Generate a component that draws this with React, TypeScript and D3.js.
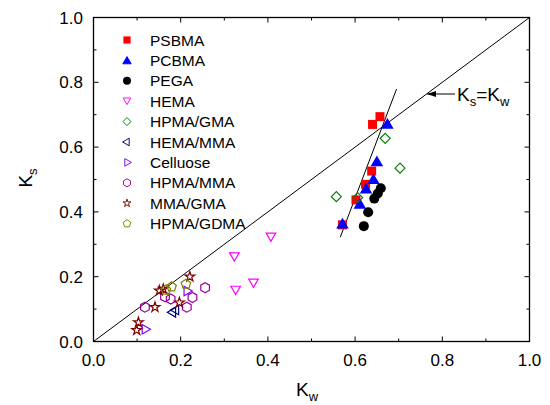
import React from "react";
import * as d3 from "d3";

// K_w, K_s pairs for each polymer family
const psbma = [[0.657, 0.694], [0.640, 0.670], [0.638, 0.526], [0.624, 0.485], [0.602, 0.437], [0.571, 0.360]];
const pcbma = [[0.674, 0.671], [0.650, 0.555], [0.642, 0.500], [0.625, 0.471], [0.611, 0.424], [0.571, 0.363]];
const pega = [[0.659, 0.473], [0.652, 0.457], [0.644, 0.441], [0.630, 0.399], [0.620, 0.356]];
const hema = [[0.407, 0.323], [0.367, 0.181], [0.323, 0.262], [0.326, 0.159]];
const hpmaGma = [[0.669, 0.627], [0.703, 0.535], [0.557, 0.447], [0.606, 0.444]];
const hemaMma = [[0.182, 0.090], [0.189, 0.097]];
const cellulose = [[0.118, 0.038], [0.214, 0.156]];
const hpmaMma = [[0.118, 0.106], [0.164, 0.138], [0.177, 0.131], [0.227, 0.136], [0.214, 0.106], [0.256, 0.166]];
const mmaGma = [[0.221, 0.200], [0.160, 0.162], [0.197, 0.120], [0.141, 0.106], [0.103, 0.059], [0.099, 0.035], [0.151, 0.157]];
const hpmaGdma = [[0.179, 0.169], [0.166, 0.159], [0.212, 0.177]];

// steep guide line through the zwitterionic points
const fitLine = [[0.566, 0.322], [0.695, 0.779]];
const ticks = [0, 0.2, 0.4, 0.6, 0.8, 1.0];
const minorTicks = [0.1, 0.3, 0.5, 0.7, 0.9];

const W = 550, H = 405;
const x = d3.scaleLinear().domain([0, 1]).range([93.5, 529.5]);
const y = d3.scaleLinear().domain([0, 1]).range([341.5, 17.5]);

const font = "Arial, 'Liberation Sans', sans-serif";

function poly(n: number, r: number, rot: number) {
  const pts: string[] = [];
  for (let i = 0; i < n; i++) {
    const a = rot + (i * 2 * Math.PI) / n;
    pts.push((r * Math.cos(a)).toFixed(2) + "," + (r * Math.sin(a)).toFixed(2));
  }
  return pts.join(" ");
}

const series = [
  { name: "PSBMA", data: psbma, color: "#ff0000", shape: "square", fill: true },
  { name: "PCBMA", data: pcbma, color: "#0000ff", shape: "triUp", fill: true },
  { name: "PEGA", data: pega, color: "#000000", shape: "circle", fill: true },
  { name: "HEMA", data: hema, color: "#ff00ff", shape: "triDown", fill: false },
  { name: "HPMA/GMA", data: hpmaGma, color: "#008000", shape: "diamond", fill: false },
  { name: "HEMA/MMA", data: hemaMma, color: "#000080", shape: "triLeft", fill: false },
  { name: "Celluose", data: cellulose, color: "#8000ff", shape: "triRight", fill: false },
  { name: "HPMA/MMA", data: hpmaMma, color: "#990099", shape: "hexagon", fill: false },
  { name: "MMA/GMA", data: mmaGma, color: "#800000", shape: "star", fill: false },
  { name: "HPMA/GDMA", data: hpmaGdma, color: "#808000", shape: "pentagon", fill: false },
];

function Marker({ shape, color, fill, cx, cy, scale = 1 }: any) {
  const f = fill ? color : "none";
  const sw = 1.2;
  const t = `translate(${cx},${cy}) scale(${scale})`;
  switch (shape) {
    case "square":
      return <rect x={-4.5} y={-4.5} width={9} height={9} fill={color} transform={t} />;
    case "circle":
      return <circle r={5} fill={color} transform={t} />;
    case "triUp":
      return <polygon points={poly(3, 6, -Math.PI / 2)} transform={`translate(${cx},${cy + 1}) scale(${scale})`} fill={f} stroke={color} strokeWidth={sw} />;
    case "triDown":
      return <polygon points={poly(3, 5.5, Math.PI / 2)} transform={`translate(${cx},${cy - 1}) scale(${scale})`} fill={f} stroke={color} strokeWidth={sw} />;
    case "triLeft":
      return <polygon points={poly(3, 5.5, Math.PI)} transform={t} fill={f} stroke={color} strokeWidth={sw} />;
    case "triRight":
      return <polygon points={poly(3, 5.5, 0)} transform={t} fill={f} stroke={color} strokeWidth={sw} />;
    case "diamond":
      return <polygon points={poly(4, 5, 0)} transform={t} fill={f} stroke={color} strokeWidth={sw} />;
    case "hexagon":
      return <polygon points={poly(6, 5, Math.PI / 2)} transform={t} fill={f} stroke={color} strokeWidth={sw} />;
    case "pentagon":
      return <polygon points={poly(5, 5, -Math.PI / 2)} transform={t} fill={f} stroke={color} strokeWidth={sw} />;
    case "star":
      return <path d={d3.symbol(d3.symbolStar, 30)() as string} transform={t} fill={f} stroke={color} strokeWidth={sw} />;
    default:
      return null;
  }
}

export default function App() {
  const [x0, x1] = x.range();
  const [y0, y1] = y.range();
  const lineGen = d3.line<number[]>().x((d) => x(d[0])).y((d) => y(d[1]));
  return (
    <svg width={W} height={H} style={{ position: "absolute", left: 0, top: 0 }} fontFamily={font}>
      <defs>
        <clipPath id="plot">
          <rect x={x0} y={y1} width={x1 - x0} height={y0 - y1} />
        </clipPath>
        <marker id="arr" markerWidth="10" markerHeight="8" refX="9" refY="4" orient="auto" markerUnits="userSpaceOnUse">
          <path d="M0,1 L9,4 L0,7 Z" fill="#000" />
        </marker>
      </defs>

      {/* ticks */}
      {ticks.map((t) => (
        <g key={"mj" + t} stroke="#000" strokeWidth={1}>
          <line x1={x(t)} x2={x(t)} y1={y0} y2={y0 - 5} />
          <line x1={x(t)} x2={x(t)} y1={y1} y2={y1 + 5} />
          <line x1={x0} x2={x0 + 5} y1={y(t)} y2={y(t)} />
          <line x1={x1} x2={x1 - 5} y1={y(t)} y2={y(t)} />
        </g>
      ))}
      {minorTicks.map((t) => (
        <g key={"mn" + t} stroke="#000" strokeWidth={1}>
          <line x1={x(t)} x2={x(t)} y1={y0} y2={y0 - 3} />
          <line x1={x(t)} x2={x(t)} y1={y1} y2={y1 + 3} />
          <line x1={x0} x2={x0 + 3} y1={y(t)} y2={y(t)} />
          <line x1={x1} x2={x1 - 3} y1={y(t)} y2={y(t)} />
        </g>
      ))}
      {ticks.map((t) => (
        <text key={"xl" + t} x={x(t)} y={366} fontSize={17} textAnchor="middle">{t.toFixed(1)}</text>
      ))}
      {ticks.map((t) => (
        <text key={"yl" + t} x={83} y={y(t) + 6} fontSize={17} textAnchor="end">{t.toFixed(1)}</text>
      ))}

      {/* axis titles */}
      <text x={307} y={396} fontSize={19} textAnchor="middle">
        K<tspan fontSize={13} dy={5}>w</tspan>
      </text>
      <text transform="translate(32,178) rotate(-90)" fontSize={19} textAnchor="middle">
        K<tspan fontSize={13} dy={5}>s</tspan>
      </text>

      <g clipPath="url(#plot)">
        <path d={lineGen([[0, 0], [1, 1]]) as string} stroke="#000" strokeWidth={1} fill="none" />
        <path d={lineGen(fitLine) as string} stroke="#000" strokeWidth={1} fill="none" />
        {series.map((s) =>
          s.data.map((d, i) => (
            <Marker key={s.name + i} shape={s.shape} color={s.color} fill={s.fill} cx={x(d[0])} cy={y(d[1])} />
          ))
        )}
      </g>

      {/* Ks = Kw annotation */}
      <line x1={455} y1={94} x2={427} y2={94} stroke="#000" strokeWidth={1} markerEnd="url(#arr)" />
      <text x={457} y={101} fontSize={19}>
        K<tspan fontSize={13} dy={5}>s</tspan>
        <tspan dy={-5} fontSize={19}>=K</tspan>
        <tspan fontSize={13} dy={5}>w</tspan>
      </text>

      {/* legend */}
      {series.map((s, i) => (
        <g key={"lg" + s.name}>
          <Marker shape={s.shape} color={s.color} fill={s.fill} cx={127} cy={40 + i * 20.4} scale={0.8} />
          <text x={150} y={45.5 + i * 20.4} fontSize={15.5}>{s.name}</text>
        </g>
      ))}

      <rect x={x0} y={y1} width={x1 - x0} height={y0 - y1} fill="none" stroke="#000" strokeWidth={1.3} />
    </svg>
  );
}
